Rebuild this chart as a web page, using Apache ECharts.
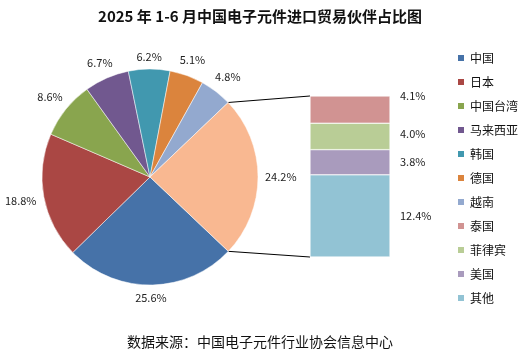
<!DOCTYPE html>
<html><head><meta charset="utf-8">
<script src="https://cdn.jsdelivr.net/npm/echarts@6/dist/echarts.min.js"></script>
<style>html,body{margin:0;padding:0;background:#fff}#c{width:520px;height:357px}</style>
</head><body><div id="c"></div>
<script>
// Pie data (main partners)
const pieNames = ['中国','日本','中国台湾','马来西亚','韩国','德国','越南','其他合计'];
const pieValues = [25.6, 18.8, 8.6, 6.7, 6.2, 5.1, 4.8, 24.2];
const pieColors = ['#4672A8','#AA4744','#89A54E','#71588F','#4198AF','#DB843D','#93A9CF','#F9B891'];
// Breakdown bar (of the 24.2% slice), top to bottom
const barNames = ['泰国','菲律宾','美国','其他'];
const barValues = [4.1, 4.0, 3.8, 12.4];
const barColors = ['#D19392','#B9CD96','#A99BBD','#92C3D4'];
const legendNames = ['中国','日本','中国台湾','马来西亚','韩国','德国','越南','泰国','菲律宾','美国','其他'];

const FONT = '"Noto Sans CJK SC","Noto Sans",sans-serif';
const PIE_CENTER = [150, 177];
const PIE_R = 108;
const START = -43.5;
const barTotal = barValues.reduce((a,b)=>a+b,0);
const pieTotal = pieValues.reduce((a,b)=>a+b,0);
const labelOffsets = [[0,-14],[0,-3],[0,0],[0,0]];

// mid angles of the pie slices (degrees, counter-clockwise from 3 o'clock)
const midAngles = [];
{ let acc = 0; pieValues.forEach(v => { midAngles.push(START - 360*(acc + v/2)/pieTotal); acc += v; }); }

const chart = echarts.init(document.getElementById('c'));
const barSeries = [];
for (let i = barNames.length - 1; i >= 0; i--) {
  barSeries.push({
    type: 'bar', name: barNames[i], stack: 'b', barWidth: '100%',
    xAxisIndex: 0, yAxisIndex: 0,
    data: [barValues[i]],
    itemStyle: {color: barColors[i], borderColor: '#fff', borderWidth: 0.5},
    label: {show: true, position: 'right', distance: 10, offset: labelOffsets[i],
      formatter: p => p.value.toFixed(1) + '%', color: '#222', fontSize: 11, fontFamily: FONT},
    emphasis: {disabled: true}
  });
}
chart.setOption({
  animation: false,
  title: {text: '2025 年 1-6 月中国电子元件进口贸易伙伴占比图', left: 'center', top: 4,
    textStyle: {fontSize: 15, fontWeight: 'bold', color: '#111', fontFamily: FONT}},
  legend: {orient: 'vertical', left: 451, top: 47, itemWidth: 8, itemHeight: 8, itemGap: 12,
    icon: 'rect', data: legendNames,
    textStyle: {fontSize: 12, color: '#111', fontFamily: FONT}, selectedMode: false},
  grid: {left: 310, top: 96, width: 80, height: 161},
  xAxis: {type: 'category', data: [''], show: false},
  yAxis: {type: 'value', min: 0, max: barTotal, show: false},
  series: [{
    type: 'pie', center: PIE_CENTER, radius: PIE_R, startAngle: START, clockwise: true,
    avoidLabelOverlap: false,
    data: pieNames.map((n,i)=>({name: n, value: pieValues[i], itemStyle: {color: pieColors[i]}})),
    itemStyle: {borderColor: '#fff', borderWidth: 0.5},
    label: {show: true, position: 'outside', formatter: p => p.value.toFixed(1) + '%',
      color: '#222', fontSize: 11, fontFamily: FONT},
    labelLine: {show: false, length: 6, length2: 2},
    labelLayout: function (params) {
      const th = midAngles[params.dataIndex] * Math.PI / 180;
      const c = Math.cos(th), s = Math.sin(th);
      const w = params.labelRect.width, h = params.labelRect.height;
      const d = PIE_R + 7 + Math.abs(c)*w/2 + Math.abs(s)*h/2;
      return {x: PIE_CENTER[0] + d*c, y: PIE_CENTER[1] - d*s, align: 'center', verticalAlign: 'middle'};
    },
    emphasis: {disabled: true}
  }].concat(barSeries)
});
// connector lines from the "others" slice to the breakdown bar
const before = pieValues.slice(0, pieValues.length - 1).reduce((a,b)=>a+b,0);
const a1 = (START - 360*before/pieTotal) * Math.PI/180;
const a2 = (START - 360) * Math.PI/180;
const p1 = [PIE_CENTER[0] + PIE_R*Math.cos(a1), PIE_CENTER[1] - PIE_R*Math.sin(a1)];
const p2 = [PIE_CENTER[0] + PIE_R*Math.cos(a2), PIE_CENTER[1] - PIE_R*Math.sin(a2)];
const rect = chart.getModel().getComponent('grid').coordinateSystem.getRect();
const yTop = chart.convertToPixel({yAxisIndex: 0}, barTotal);
const yBot = chart.convertToPixel({yAxisIndex: 0}, 0);
chart.setOption({graphic: [
  {type: 'text', left: 'center', top: 335,
    style: {text: '数据来源：中国电子元件行业协会信息中心', fontSize: 14, fill: '#111', fontFamily: FONT}},
  {type: 'line', shape: {x1: p1[0], y1: p1[1], x2: rect.x, y2: yTop}, style: {stroke: '#000', lineWidth: 1}},
  {type: 'line', shape: {x1: p2[0], y1: p2[1], x2: rect.x, y2: yBot}, style: {stroke: '#000', lineWidth: 1}}
]});
</script></body></html>
